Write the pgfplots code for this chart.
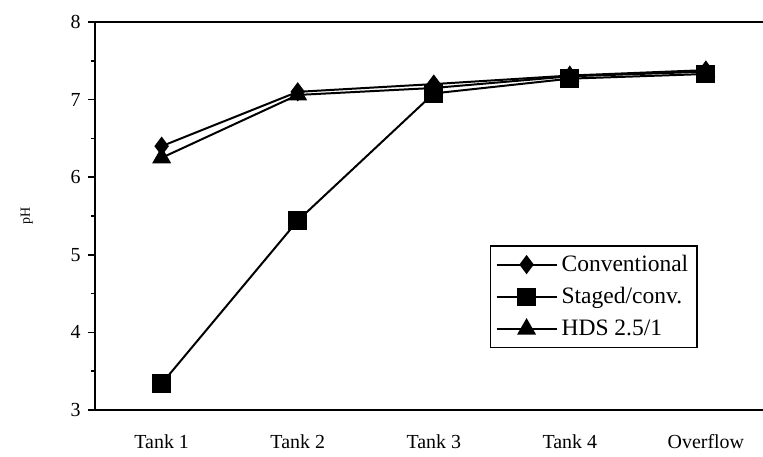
\documentclass[border=0pt]{standalone}
\usepackage{fontspec}
\setmainfont{Liberation Serif}
\usepackage{pgfplots}
\pgfplotsset{compat=1.18}
\begin{document}
\fontsize{10.5}{12}\selectfont
\begin{tikzpicture}
\useasboundingbox (-47.5bp,-23.5bp) rectangle (334bp,205bp);
\begin{axis}[
  at={(0,0)}, anchor=south west,
  scale only axis, width=334bp, height=194bp,
  axis x line=box, axis y line=left,
  axis line style={line width=1.1pt, -},
  xmin=-0.49, xmax=4.42, ymin=3, ymax=8,
  xtick={0,1,2,3,4},
  xticklabels={Tank 1, Tank 2, Tank 3, Tank 4, Overflow},
  x tick style={draw=none},
  xticklabel style={yshift=-5bp},
  ytick={3,4,5,6,7,8},
  minor ytick={3.5,4.5,5.5,6.5,7.5},
  y tick style={line width=0.8pt, black},
  tick align=outside,
  major tick length=3.5bp, minor tick length=2bp,
  /pgf/number format/assume math mode=true,
  tick label style={font=\fontsize{10}{11}\selectfont},
  ylabel={pH}, ylabel style={font=\fontsize{7}{8}\selectfont, at={(axis description cs:-0.082,0.5)}},
  legend style={at={(0.591,0.425)}, anchor=north west, draw=black, line width=0.8pt,
    font=\fontsize{11.8}{13}\selectfont, row sep=2.5bp, inner sep=2.5bp},
  legend cell align=left,
  legend image code/.code={
    \draw[mark repeat=2,mark phase=2] plot coordinates {(0bp,0bp) (15bp,0bp) (30bp,0bp)};},
  clip=false,
]
\addplot[black, line width=1pt, mark=diamond*, mark size=4bp, mark options={solid,fill=black}]
  coordinates {(0,6.40) (1,7.10) (2,7.20) (3,7.31) (4,7.38)};
\addlegendentry{Conventional}
\addplot[black, line width=1pt, mark=square*, mark size=4.2bp, mark options={solid,fill=black}]
  coordinates {(0,3.34) (1,5.44) (2,7.08) (3,7.27) (4,7.33)};
\addlegendentry{Staged/conv.}
\addplot[black, line width=1pt, mark=triangle*, mark size=4.5bp, mark options={solid,fill=black}]
  coordinates {(0,6.25) (1,7.06) (2,7.15) (3,7.30) (4,7.36)};
\addlegendentry{HDS 2.5/1}
\end{axis}
\end{tikzpicture}
\end{document}
